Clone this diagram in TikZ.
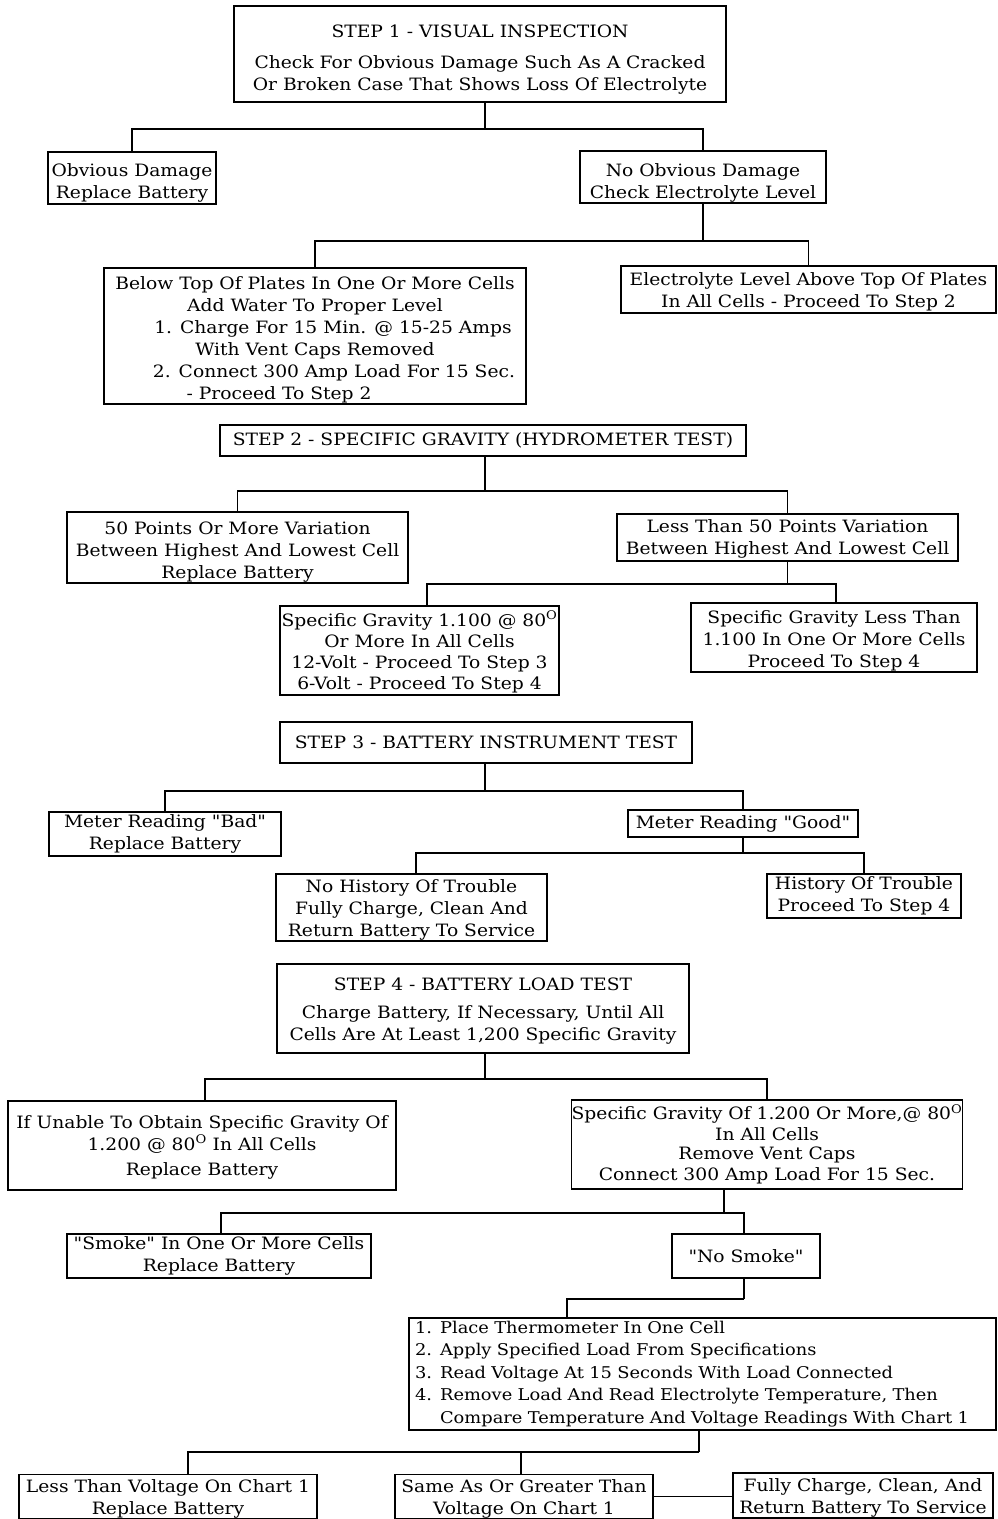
\documentclass[tikz,border=0pt]{standalone}
\usepackage{fontspec}
\setmainfont{DejaVu Serif}[FakeStretch=1.1,Ligatures=TeXOff]
\newcommand\fs{\fontsize{17}{22}\selectfont}
\newcommand\dg{\textsuperscript{O}}
\newcommand\tstrut[1]{\rule{0pt}{#1}}
\begin{document}
\begin{tikzpicture}[x=1pt,y=-1pt,
  box/.style={draw,line width=1.6pt,inner sep=0pt,align=center,font=\fs},
  conn/.style={line width=1.6pt}]
\useasboundingbox (0,0) rectangle (997,1519);
\fill[white] (0,0) rectangle (997,1519);
% boxes
\node[box,minimum width=492,minimum height=96] (s1) at (480,54)
  {\tstrut{23pt}STEP 1 - VISUAL INSPECTION\\[9pt]Check For Obvious Damage Such As A Cracked\\Or Broken Case That Shows Loss Of Electrolyte};
\node[box,minimum width=168,minimum height=52] (od) at (132,178) {\tstrut{22pt}Obvious Damage\\Replace Battery};
\node[box,minimum width=246,minimum height=52] (nod) at (703,177) {\tstrut{24pt}No Obvious Damage\\Check Electrolyte Level};
\node[box,minimum width=422,minimum height=136] (below) at (315,336)
  {\tstrut{21pt}Below Top Of Plates In One Or More Cells\\Add Water To Proper Level\\
   \hspace*{36pt}1. Charge For 15 Min. @ 15-25 Amps\\With Vent Caps Removed\hspace*{84pt}\\
   \hspace*{38pt}2. Connect 300 Amp Load For 15 Sec.\\- Proceed To Step 2\hspace*{72pt}};
\node[box,minimum width=375,minimum height=47] (above) at (808.5,289.5)
  {\tstrut{17pt}Electrolyte Level Above Top Of Plates\\In All Cells - Proceed To Step 2};
\node[box,minimum width=526,minimum height=31] (s2) at (483,440.5)
  {STEP 2 - SPECIFIC GRAVITY (HYDROMETER TEST)};
\node[box,minimum width=341,minimum height=71] (p50) at (237.5,547.5)
  {\tstrut{21pt}50 Points Or More Variation\\Between Highest And Lowest Cell\\Replace Battery};
\node[box,minimum width=341,minimum height=47] (lt50) at (787.5,537.5)
  {\tstrut{16pt}Less Than 50 Points Variation\\Between Highest And Lowest Cell};
\node[box,minimum width=279,minimum height=89,font=\fontsize{17}{21}\selectfont] (sg1) at (419.5,650.5)
  {\tstrut{18pt}Specific Gravity 1.100 @ 80\dg\\Or More In All Cells\\12-Volt - Proceed To Step 3\\6-Volt - Proceed To Step 4};
\node[box,minimum width=286,minimum height=69] (sglt) at (834,637.5)
  {\tstrut{19pt}Specific Gravity Less Than\\1.100 In One Or More Cells\\Proceed To Step 4};
\node[box,minimum width=412,minimum height=41] (s3) at (486,742.5)
  {STEP 3 - BATTERY INSTRUMENT TEST};
\node[box,minimum width=232,minimum height=44] (bad) at (165,834)
  {Meter Reading "Bad"\\Replace Battery};
\node[box,minimum width=230,minimum height=27] (good) at (743,823.5)
  {Meter Reading "Good"};
\node[box,minimum width=271,minimum height=67] (nohist) at (411.5,907.5)
  {\tstrut{17pt}No History Of Trouble\\Fully Charge, Clean And\\Return Battery To Service};
\node[box,minimum width=194,minimum height=44] (hist) at (864,896)
  {History Of Trouble\\Proceed To Step 4};
\node[box,minimum width=412,minimum height=89] (s4) at (483,1008.5)
  {\tstrut{17pt}STEP 4 - BATTERY LOAD TEST\\[6pt]Charge Battery, If Necessary, Until All\\Cells Are At Least 1,200 Specific Gravity};
\node[box,minimum width=388,minimum height=89] (unable) at (202,1145.5)
  {\tstrut{16pt}If Unable To Obtain Specific Gravity Of\\1.200 @ 80\dg{} In All Cells\\[3pt]Replace Battery};
\node[box,minimum width=388,minimum height=89,font=\fontsize{17}{20.7}\selectfont] (sg12) at (767,1144.5)
  {Specific Gravity Of 1.200 Or More,@ 80\dg\\In All Cells\\[-2pt]Remove Vent Caps\\[1pt]Connect 300 Amp Load For 15 Sec.};
\node[box,minimum width=304,minimum height=44] (smoke) at (219,1256)
  {"Smoke" In One Or More Cells\\Replace Battery};
\node[box,minimum width=148,minimum height=44] (nosmoke) at (746,1256)
  {"No Smoke"};
\node[box,minimum width=587,minimum height=112,text width=575,inner xsep=6pt,align=left,font=\fontsize{16.2}{22.5}\selectfont] (therm) at (702.5,1374)
  {1. Place Thermometer In One Cell\\2. Apply Specified Load From Specifications\\3. Read Voltage At 15 Seconds With Load Connected\\4. Remove Load And Read Electrolyte Temperature, Then\\\hphantom{4. }Compare Temperature And Voltage Readings With Chart 1};
\node[box,minimum width=298,minimum height=43] (ltv) at (168,1496.5)
  {\tstrut{18pt}Less Than Voltage On Chart 1\\Replace Battery};
\node[box,minimum width=258,minimum height=43] (same) at (524,1496.5)
  {\tstrut{18pt}Same As Or Greater Than\\Voltage On Chart 1};
\node[box,minimum width=260,minimum height=45] (fully) at (863,1495.5)
  {\tstrut{18pt}Fully Charge, Clean, And\\Return Battery To Service};
% connectors
\draw[conn] ([xshift=5pt]s1.south) -- ++(0,26) coordinate (j1);
\draw[conn] (j1) -| (od.north);
\draw[conn] (j1) -| (nod.north);
\draw[conn] (nod.south) -- ++(0,37) coordinate (j2);
\draw[conn] (j2) -| (below.north);
\draw[conn] (j2) -| (above.north);
\draw[conn] ([xshift=2pt]s2.south) -- ++(0,34) coordinate (j3);
\draw[conn] (j3) -| (p50.north);
\draw[conn] (j3) -| (lt50.north);
\draw[conn] (lt50.south) -- ++(0,22) coordinate (j4);
\draw[conn] (j4) -| ([xshift=7.5pt]sg1.north);
\draw[conn] (j4) -| ([xshift=2pt]sglt.north);
\draw[conn] ([xshift=-1pt]s3.south) -- ++(0,27) coordinate (j5);
\draw[conn] (j5) -| (bad.north);
\draw[conn] (j5) -| (good.north);
\draw[conn] (good.south) -- ++(0,15) coordinate (j6);
\draw[conn] (j6) -| ([xshift=4.5pt]nohist.north);
\draw[conn] (j6) -| (hist.north);
\draw[conn] ([xshift=2pt]s4.south) -- ++(0,25) coordinate (j7);
\draw[conn] (j7) -| ([xshift=3pt]unable.north);
\draw[conn] (j7) -| (sg12.north);
\draw[conn] ([xshift=-43pt]sg12.south) -- ++(0,23) coordinate (j8);
\draw[conn] (j8) -| ([xshift=2pt]smoke.north);
\draw[conn] (j8) -| ([xshift=-2pt]nosmoke.north);
\draw[conn] ([xshift=-2pt]nosmoke.south) -- ++(0,20) coordinate (j9);
\draw[conn] (j9) -| ([xshift=-135.5pt]therm.north);
\draw[conn] ([xshift=-3.5pt]therm.south) -- ++(0,21) coordinate (j10);
\draw[conn] (j10) -| ([xshift=20pt]ltv.north);
\draw[conn] (j10) -| ([xshift=-3pt]same.north);
\draw[conn] (same.east) -- (same.east -| fully.west);
\end{tikzpicture}
\end{document}
